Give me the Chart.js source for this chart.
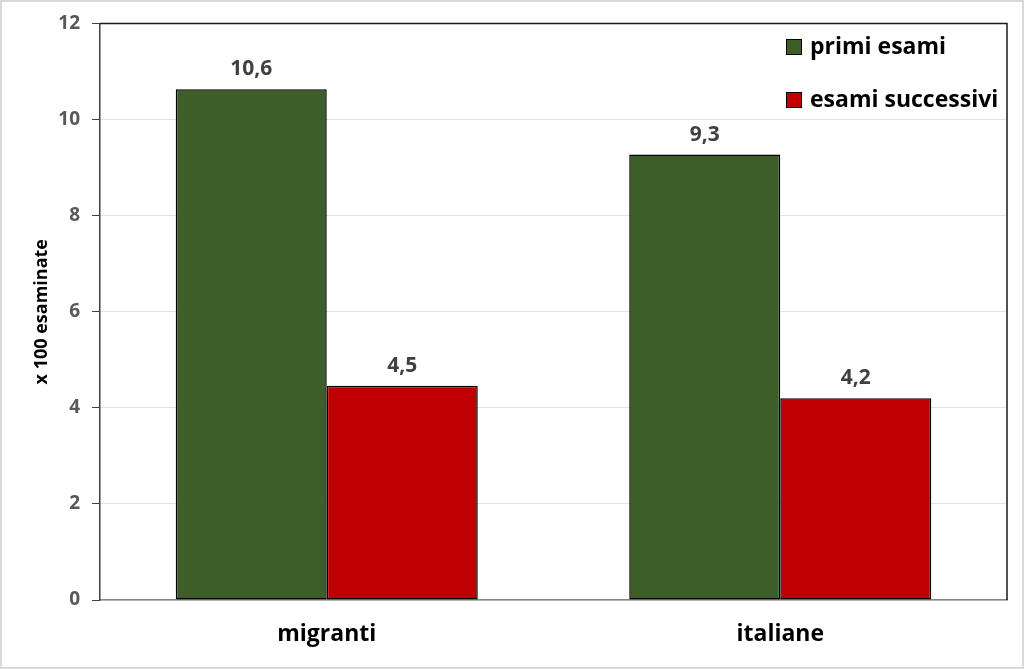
<!DOCTYPE html>
<html>
<head>
<meta charset="utf-8">
<script src="https://cdn.jsdelivr.net/npm/chart.js@4/dist/chart.umd.min.js"></script>
<style>
  html, body { margin: 0; padding: 0; background: #ffffff; }
  #wrap { width: 1024px; height: 669px; position: relative; }
  canvas { display: block; }
</style>
</head>
<body>
<div id="wrap"><canvas id="c" width="1024" height="669"></canvas></div>
<script>
const categories = ['migranti', 'italiane'];
const seriesNames = ['primi esami', 'esami successivi'];
const primiEsami = [10.63, 9.27];
const esamiSuccessivi = [4.46, 4.2];
const seriesColors = ['#3D5E29', '#C00000'];
const yMin = 0, yMax = 12, yStep = 2;
const yTitle = 'x 100 esaminate';
const FONT = '"Open Sans", Lato, sans-serif';

const fmt = v => v.toFixed(1).replace('.', ',');

const decor = {
  id: 'decor',
  afterDatasetsDraw(chart) {
    const ctx = chart.ctx;
    ctx.save();
    ctx.font = 'bold 21px ' + FONT;
    ctx.fillStyle = '#404040';
    ctx.textAlign = 'center';
    ctx.textBaseline = 'middle';
    chart.data.datasets.forEach((ds, i) => {
      chart.getDatasetMeta(i).data.forEach((bar, j) => {
        ctx.fillText(fmt(ds.data[j]), bar.x, bar.y - 20);
      });
    });
    ctx.restore();
  },
  afterDraw(chart) {
    const ctx = chart.ctx;
    const a = chart.chartArea;
    ctx.save();
    ctx.strokeStyle = '#1a1a1a';
    ctx.lineWidth = 1.5;
    ctx.beginPath();
    ctx.moveTo(a.left, a.top);
    ctx.lineTo(a.right, a.top);
    ctx.lineTo(a.right, a.bottom);
    ctx.stroke();
    ctx.font = 'bold 23px ' + FONT;
    ctx.textAlign = 'left';
    ctx.textBaseline = 'middle';
    chart.data.datasets.forEach((ds, i) => {
      const y = 47 + i * 53;
      ctx.fillStyle = ds.backgroundColor;
      ctx.fillRect(786, y - 8, 15, 15);
      ctx.strokeStyle = '#000';
      ctx.lineWidth = 1;
      ctx.strokeRect(786.5, y - 7.5, 15, 15);
      ctx.fillStyle = '#000';
      ctx.fillText(ds.label, 810, y);
    });
    ctx.strokeStyle = '#d9d9d9';
    ctx.lineWidth = 2;
    ctx.strokeRect(1, 1, chart.width - 2, chart.height - 2);
    ctx.restore();
  }
};

new Chart(document.getElementById('c'), {
  type: 'bar',
  data: {
    labels: categories,
    datasets: [
      { label: seriesNames[0], data: primiEsami, backgroundColor: seriesColors[0], borderColor: '#000', borderWidth: 1.5, borderSkipped: false },
      { label: seriesNames[1], data: esamiSuccessivi, backgroundColor: seriesColors[1], borderColor: '#000', borderWidth: 1.5, borderSkipped: false }
    ]
  },
  options: {
    responsive: false,
    animation: false,
    devicePixelRatio: 1,
    layout: { padding: { left: 0, top: 21, right: 17, bottom: 0 } },
    datasets: { bar: { categoryPercentage: 0.666, barPercentage: 1.0 } },
    plugins: { legend: { display: false }, tooltip: { enabled: false } },
    scales: {
      x: {
        grid: { display: false, drawTicks: false },
        border: { display: true, color: '#868686', width: 1.5 },
        ticks: { color: '#000', font: { family: FONT, size: 23, weight: 'bold' }, padding: 21 },
        afterFit(s) { s.height = 69; }
      },
      y: {
        min: yMin, max: yMax,
        ticks: { stepSize: yStep, color: '#595959', font: { family: FONT, size: 19, weight: 'bold' }, padding: 12 },
        grid: {
          color: ctx => (ctx.tick && ctx.tick.value === yMax) ? '#1a1a1a' : '#e3e3e3',
          tickColor: '#404040',
          tickLength: 8,
          lineWidth: 1
        },
        border: { display: true, color: '#404040', width: 1.5 },
        title: { display: true, text: yTitle, color: '#000', font: { family: FONT, size: 18, weight: 'bold' }, padding: { top: 31, bottom: 0 } },
        afterFit(s) { s.width = 100; }
      }
    }
  },
  plugins: [decor]
});
</script>
</body>
</html>
